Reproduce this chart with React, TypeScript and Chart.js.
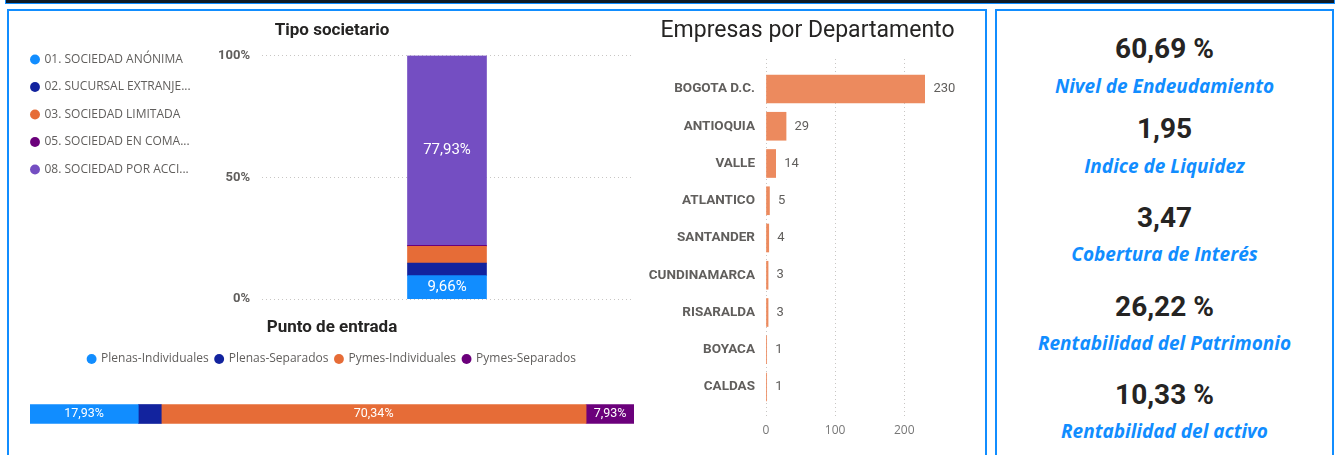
import React, { useEffect, useRef } from 'react';
import { Chart, registerables } from 'chart.js';

Chart.register(...registerables);

// ---------- data ----------
const tipoLabels = [
  '01. SOCIEDAD ANÓNIMA',
  '02. SUCURSAL EXTRANJE...',
  '03. SOCIEDAD LIMITADA',
  '05. SOCIEDAD EN COMA...',
  '08. SOCIEDAD POR ACCI...',
];
const tipoValues = [9.66, 5.17, 6.9, 0.34, 77.93];
const tipoColors = ['#118DFF', '#12239E', '#E66C37', '#6B007B', '#744EC2'];
const tipoTicks = [0, 50, 100];

const puntoLabels = ['Plenas-Individuales', 'Plenas-Separados', 'Pymes-Individuales', 'Pymes-Separados'];
const puntoValues = [17.93, 3.8, 70.34, 7.93];
const puntoColors = ['#118DFF', '#12239E', '#E66C37', '#6B007B'];

const deptLabels = [
  'BOGOTA D.C.',
  'ANTIOQUIA',
  'VALLE',
  'ATLANTICO',
  'SANTANDER',
  'CUNDINAMARCA',
  'RISARALDA',
  'BOYACA',
  'CALDAS',
];
const deptValues = [230, 29, 14, 5, 4, 3, 3, 1, 1];
const deptTicks = [0, 100, 200];

const kpiValues = ['60,69 %', '1,95', '3,47', '26,22 %', '10,33 %'];
const kpiLabels = [
  'Nivel de Endeudamiento',
  'Indice de Liquidez',
  'Cobertura de Interés',
  'Rentabilidad del Patrimonio',
  'Rentabilidad del activo',
];

// ---------- styles ----------
const BLUE = '#118DFF';
const DARK = '#252423';
const GRAY = '#605E5C';
const GRID = '#C8C6C4';
const DIN = 'Roboto, "Liberation Sans", sans-serif';
const SEGOE = '"Open Sans", "Noto Sans", sans-serif';

const pct = (v: number) => v.toFixed(2).replace('.', ',') + '%';

function labelPlugin(mode: 'insideV' | 'insideH' | 'end', font: string, color: string, minSize: number) {
  return {
    id: 'barLabels_' + mode,
    afterDatasetsDraw(chart: any) {
      const ctx = chart.ctx;
      ctx.save();
      ctx.font = font;
      ctx.fillStyle = color;
      ctx.textBaseline = 'middle';
      chart.data.datasets.forEach((ds: any, di: number) => {
        const meta = chart.getDatasetMeta(di);
        meta.data.forEach((el: any, i: number) => {
          const v = ds.data[i] as number;
          const p = el.getProps(['x', 'y', 'base'], true);
          if (mode === 'insideV') {
            const t = pct(v);
            if (Math.abs(p.base - p.y) < minSize) return;
            ctx.textAlign = 'center';
            ctx.fillText(t, p.x, (p.y + p.base) / 2);
          } else if (mode === 'insideH') {
            const t = pct(v);
            const w = Math.abs(p.x - p.base);
            if (w < ctx.measureText(t).width + minSize) return;
            ctx.textAlign = 'center';
            ctx.fillText(t, (p.x + p.base) / 2, p.y);
          } else {
            ctx.textAlign = 'left';
            ctx.fillText(String(v), p.x + 8.5, p.y);
          }
        });
      });
      ctx.restore();
    },
  };
}

function ChartBox(props: { left: number; top: number; width: number; height: number; make: () => any }) {
  const ref = useRef<HTMLCanvasElement>(null);
  useEffect(() => {
    const chart = new Chart(ref.current as HTMLCanvasElement, props.make());
    return () => chart.destroy();
  }, []);
  return (
    <canvas
      ref={ref}
      width={props.width}
      height={props.height}
      style={{ position: 'absolute', left: props.left, top: props.top, width: props.width, height: props.height }}
    />
  );
}

const makeTipo = () => ({
  type: 'bar',
  data: {
    labels: [''],
    datasets: tipoLabels.map((l, i) => ({
      label: l,
      data: [tipoValues[i]],
      backgroundColor: tipoColors[i],
      barThickness: 79,
      xAxisID: 'x',
      yAxisID: 'y',
    })),
  },
  options: {
    animation: false,
    responsive: false,
    devicePixelRatio: 1,
    layout: { padding: { left: 0, right: 0, top: 0, bottom: 8 } },
    plugins: {
      title: {
        display: true,
        text: 'Tipo societario',
        color: DARK,
        font: { family: DIN, size: 17, weight: 'bold' },
        padding: { top: 8.8, bottom: 14.4 },
      },
      legend: {
        position: 'left',
        align: 'start',
        maxWidth: 230,
        title: { display: true, text: '', font: { size: 10 }, padding: 7 },
        labels: {
          usePointStyle: true,
          pointStyle: 'circle',
          boxWidth: 7,
          boxHeight: 7,
          padding: 15.5,
          color: GRAY,
          font: { family: SEGOE, size: 12 },
        },
      },
      tooltip: { enabled: false },
    },
    scales: {
      x: { display: false, stacked: true },
      y: {
        type: 'linear',
        stacked: true,
        min: 0,
        max: 100,
        afterBuildTicks: (s: any) => {
          s.ticks = tipoTicks.map((v) => ({ value: v }));
        },
        afterFit: (s: any) => {
          s.width = 246 - s.chart.legend.width;
        },
        ticks: {
          callback: (v: any) => v + '%',
          color: GRAY,
          font: { family: DIN, size: 13, weight: 'bold' },
          padding: 12,
        },
        grid: { color: GRID, drawTicks: false },
        border: { display: false, dash: [1, 3] },
      },
      yR: {
        type: 'linear',
        position: 'right',
        display: true,
        min: 0,
        max: 1,
        grid: { display: false, drawTicks: false },
        ticks: { display: false },
        border: { display: false },
        afterFit: (s: any) => {
          s.width = 16;
        },
      },
    },
  },
  plugins: [labelPlugin('insideV', `15px ${DIN}`, '#FFFFFF', 20)],
});

const makePunto = () => ({
  type: 'bar',
  data: {
    labels: [''],
    datasets: puntoLabels.map((l, i) => ({
      label: l,
      data: [puntoValues[i]],
      backgroundColor: puntoColors[i],
      barThickness: 19,
    })),
  },
  options: {
    indexAxis: 'y',
    animation: false,
    responsive: false,
    devicePixelRatio: 1,
    layout: { padding: { left: 10, right: 10, top: 0, bottom: 7 } },
    plugins: {
      title: {
        display: true,
        text: 'Punto de entrada',
        color: DARK,
        font: { family: DIN, size: 17, weight: 'bold' },
        padding: { top: 5.8, bottom: 7.8 },
      },
      legend: {
        position: 'top',
        align: 'center',
        labels: {
          usePointStyle: true,
          pointStyle: 'circle',
          boxWidth: 7,
          boxHeight: 7,
          padding: 7,
          color: GRAY,
          font: { family: SEGOE, size: 12 },
        },
      },
      tooltip: { enabled: false },
    },
    scales: {
      x: { type: 'linear', display: false, stacked: true, min: 0, max: 100 },
      y: { display: false, stacked: true },
    },
  },
  plugins: [labelPlugin('insideH', `12.5px ${DIN}`, '#FFFFFF', 4)],
});

const makeDept = () => ({
  type: 'bar',
  data: {
    labels: deptLabels,
    datasets: [
      {
        label: 'Empresas',
        data: deptValues,
        backgroundColor: '#EC8A5E',
        barThickness: 28,
        xAxisID: 'x',
        yAxisID: 'y',
      },
    ],
  },
  options: {
    indexAxis: 'y',
    animation: false,
    responsive: false,
    devicePixelRatio: 1,
    layout: { padding: 0 },
    plugins: {
      title: {
        display: true,
        text: 'Empresas por Departamento',
        color: DARK,
        font: { family: DIN, size: 23, weight: 'normal' },
        padding: { top: 5.2, bottom: 14.2 },
      },
      legend: { display: false },
      tooltip: { enabled: false },
    },
    scales: {
      x: {
        type: 'linear',
        min: 0,
        max: 230,
        afterBuildTicks: (s: any) => {
          s.ticks = deptTicks.map((v) => ({ value: v }));
        },
        afterFit: (s: any) => {
          s.height = 28;
        },
        ticks: { color: '#777777', font: { family: SEGOE, size: 12 }, padding: 6, autoSkip: false },
        grid: { color: GRID, drawTicks: false },
        border: { display: false, dash: [1, 3] },
      },
      y: {
        type: 'category',
        afterBuildTicks: (s: any) => {
          s._startValue -= 0.3055;
          s._valueRange += 0.611;
        },
        afterFit: (s: any) => {
          s.width = 126;
        },
        ticks: { color: GRAY, font: { family: DIN, size: 13.5, weight: 'bold' }, padding: 11, autoSkip: false },
        grid: { display: false, drawTicks: false },
        border: { display: false },
      },
      yR: {
        type: 'linear',
        position: 'right',
        display: true,
        min: 0,
        max: 1,
        grid: { display: false, drawTicks: false },
        ticks: { display: false },
        border: { display: false },
        afterFit: (s: any) => {
          s.width = 50;
        },
      },
    },
  },
  plugins: [labelPlugin('end', `13px ${DIN}`, GRAY, 0)],
});

const valueBaselines = [58.3, 139, 228, 316.7, 405];
const labelBaselines = [93, 173.3, 261.5, 350, 438.3];

export default function App() {
  return (
    <div
      style={{
        position: 'absolute',
        left: 0,
        top: 0,
        width: 1336,
        height: 455,
        overflow: 'hidden',
        background: '#FFFFFF',
      }}
    >
      {/* top dark band */}
      <div
        style={{
          position: 'absolute',
          left: 5,
          top: -10,
          width: 1328,
          height: 12,
          background: '#0F1A26',
          border: `1px solid ${BLUE}`,
        }}
      />
      {/* left panel */}
      <div
        style={{
          position: 'absolute',
          left: 7,
          top: 9,
          width: 980,
          height: 500,
          border: `2px solid ${BLUE}`,
          boxSizing: 'border-box',
        }}
      />
      {/* right panel */}
      <div
        style={{
          position: 'absolute',
          left: 995,
          top: 9,
          width: 339,
          height: 500,
          border: `2px solid ${BLUE}`,
          boxSizing: 'border-box',
        }}
      />
      <ChartBox left={16} top={12} width={632} height={307} make={makeTipo} />
      <ChartBox left={20} top={312} width={624} height={148} make={makePunto} />
      <ChartBox left={640} top={12} width={335} height={433} make={makeDept} />
      {kpiValues.map((v, i) => (
        <div
          key={'v' + i}
          style={{
            position: 'absolute',
            left: 995,
            width: 339,
            top: valueBaselines[i] - 26.6,
            height: 34,
            lineHeight: '34px',
            textAlign: 'center',
            fontFamily: DIN,
            fontWeight: 'bold',
            fontSize: 28,
            color: DARK,
            whiteSpace: 'nowrap',
          }}
        >
          {v}
        </div>
      ))}
      {kpiLabels.map((l, i) => (
        <div
          key={'l' + i}
          style={{
            position: 'absolute',
            left: 995,
            width: 339,
            top: labelBaselines[i] - 20.35,
            height: 26,
            lineHeight: '26px',
            textAlign: 'center',
            fontFamily: SEGOE,
            fontWeight: 'bold',
            fontStyle: 'italic',
            fontSize: 19,
            color: BLUE,
            whiteSpace: 'nowrap',
          }}
        >
          {l}
        </div>
      ))}
    </div>
  );
}
